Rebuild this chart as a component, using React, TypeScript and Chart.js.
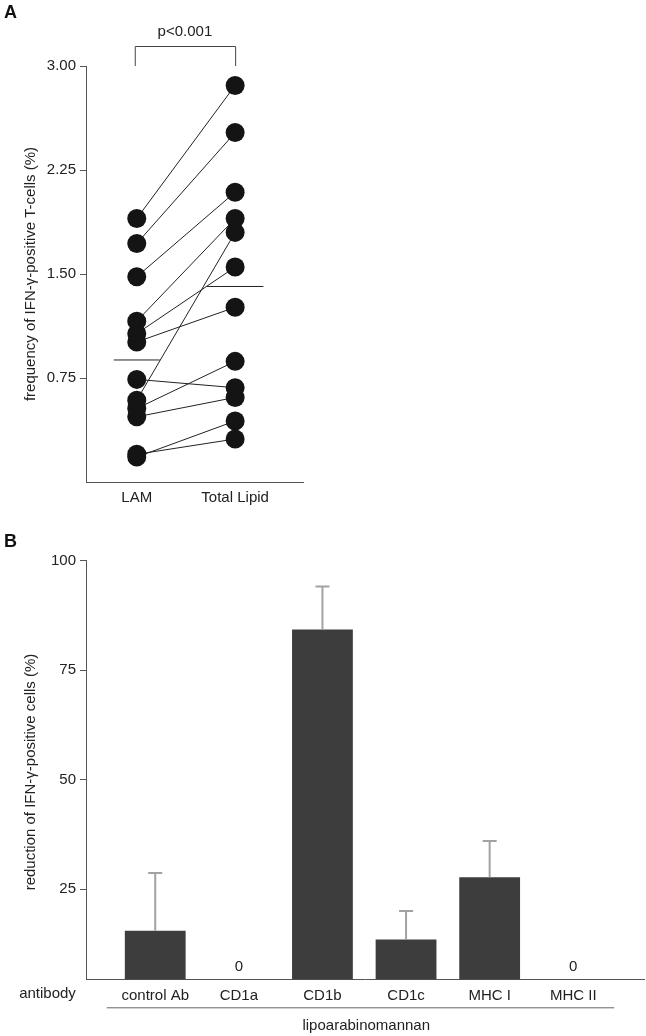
import React, { useEffect, useRef } from "react";
import { Chart, registerables } from "chart.js";

Chart.register(...registerables);

// ---------- Panel A data ----------
const groupLabels = ["LAM", "Total Lipid"];
const lamValues = [1.9, 1.72, 1.48, 1.16, 1.07, 1.01, 0.74, 0.59, 0.53, 0.47, 0.2, 0.18];
const totalLipidValues = [2.86, 2.52, 2.09, 1.9, 1.55, 1.26, 0.68, 1.8, 0.87, 0.61, 0.31, 0.44];
const groupMeans = [0.88, 1.41];
const yTicksA = [0.75, 1.5, 2.25, 3.0];
const pValueText = "p<0.001";
const yTitleA = "frequency of IFN-\u03b3-positive T-cells (%)";

// ---------- Panel B data ----------
const antibodies = ["control Ab", "CD1a", "CD1b", "CD1c", "MHC I", "MHC II"];
const reductionValues = [15.5, 0, 84.3, 13.5, 27.7, 0];
const reductionErrors = [13.2, 0, 9.8, 6.5, 8.3, 0];
const yTicksB = [25, 50, 75, 100];
const yTitleB = "reduction of IFN-\u03b3-positive cells (%)";
const rowLabel = "antibody";
const groupLabelB = "lipoarabinomannan";

const FONT = '"Liberation Sans", Arial, Helvetica, sans-serif';
const TEXT = "#222";
const AXIS = "#555";

function drawRotatedTitle(ctx: CanvasRenderingContext2D, text: string, x: number, y: number) {
  ctx.save();
  ctx.translate(x, y);
  ctx.rotate(-Math.PI / 2);
  ctx.font = `15px ${FONT}`;
  ctx.fillStyle = TEXT;
  ctx.textAlign = "center";
  ctx.textBaseline = "middle";
  ctx.fillText(text, 0, 0);
  ctx.restore();
}

function drawPanelLetter(ctx: CanvasRenderingContext2D, letter: string, x: number, y: number) {
  ctx.save();
  ctx.font = `bold 18px ${FONT}`;
  ctx.fillStyle = "#111";
  ctx.textAlign = "left";
  ctx.textBaseline = "middle";
  ctx.fillText(letter, x, y);
  ctx.restore();
}

export default function App() {
  const refA = useRef<HTMLCanvasElement | null>(null);
  const refB = useRef<HTMLCanvasElement | null>(null);

  useEffect(() => {
    if (!refA.current || !refB.current) return;

    // ---------------- Panel A ----------------
    const pairDatasets: any[] = lamValues.map((v, i) => ({
      data: [
        { x: 1, y: v },
        { x: 2, y: totalLipidValues[i] },
      ],
      showLine: true,
      borderColor: "#222",
      borderWidth: 1,
      pointRadius: 9.5,
      pointHoverRadius: 9.5,
      pointBackgroundColor: "#141414",
      pointBorderWidth: 0,
      clip: false,
    }));
    const meanHalfWidths = [0.234, 0.288];
    const meanDatasets: any[] = groupMeans.map((m, i) => ({
      data: [
        { x: i + 1 - meanHalfWidths[i], y: m },
        { x: i + 1 + meanHalfWidths[i], y: m },
      ],
      showLine: true,
      borderColor: "#222",
      borderWidth: 1,
      pointRadius: 0,
      pointHoverRadius: 0,
    }));

    const annotA = {
      id: "annotA",
      afterDraw(chart: any) {
        const { ctx, chartArea, scales } = chart;
        const x1 = scales.x.getPixelForValue(1) - 2;
        const x2 = scales.x.getPixelForValue(2);
        const yb = scales.y.getPixelForValue(3.0);
        const yt = yb - 20;
        ctx.save();
        ctx.strokeStyle = "#444";
        ctx.lineWidth = 1;
        ctx.beginPath();
        ctx.moveTo(x1 + 0.5, yb);
        ctx.lineTo(x1 + 0.5, yt + 0.5);
        ctx.lineTo(x2 + 0.5, yt + 0.5);
        ctx.lineTo(x2 + 0.5, yb);
        ctx.stroke();
        ctx.font = `15px ${FONT}`;
        ctx.fillStyle = TEXT;
        ctx.textAlign = "center";
        ctx.textBaseline = "middle";
        ctx.fillText(pValueText, (x1 + x2) / 2, yt - 14);
        ctx.restore();
        drawRotatedTitle(ctx, yTitleA, 31, (chartArea.top + chartArea.bottom) / 2);
        drawPanelLetter(ctx, "A", 4, 13);
      },
    };

    const chartA = new Chart(refA.current, {
      type: "scatter",
      data: { datasets: [...pairDatasets, ...meanDatasets] },
      options: {
        animation: false,
        responsive: false,
        events: [],
        layout: { padding: { top: 66, right: 343, bottom: 0, left: 0 } },
        plugins: { legend: { display: false }, tooltip: { enabled: false } },
        scales: {
          x: {
            type: "linear",
            min: 0.484,
            max: 2.69,
            grid: { display: false, drawTicks: false },
            border: { display: true, color: AXIS, width: 1 },
            ticks: {
              padding: 7,
              autoSkip: false,
              maxRotation: 0,
              color: TEXT,
              font: { family: FONT, size: 15 },
              callback: (v: any) => groupLabels[Math.round(Number(v)) - 1] ?? "",
            },
            afterBuildTicks: (s: any) => {
              s.ticks = groupLabels.map((_, i) => ({ value: i + 1 }));
            },
            afterFit: (s: any) => {
              s.height = 28;
            },
          },
          y: {
            type: "linear",
            min: 0,
            max: 3,
            grid: { drawOnChartArea: false, drawTicks: true, tickLength: 6, color: AXIS },
            border: { display: true, color: AXIS, width: 1 },
            ticks: {
              padding: 4,
              color: TEXT,
              font: { family: FONT, size: 15 },
              callback: (v: any) => Number(v).toFixed(2),
            },
            afterBuildTicks: (s: any) => {
              s.ticks = yTicksA.map((v) => ({ value: v }));
            },
            afterFit: (s: any) => {
              s.width = 86;
            },
          },
        },
      } as any,
      plugins: [annotA],
    });

    // ---------------- Panel B ----------------
    const annotB = {
      id: "annotB",
      afterDatasetsDraw(chart: any) {
        const { ctx, scales, chartArea } = chart;
        ctx.save();
        ctx.strokeStyle = "#a2a2a2";
        ctx.lineWidth = 2;
        reductionValues.forEach((v, i) => {
          const e = reductionErrors[i];
          if (!e) return;
          const x = scales.x.getPixelForValue(i);
          const yBar = scales.y.getPixelForValue(v);
          const yTop = scales.y.getPixelForValue(v + e);
          ctx.beginPath();
          ctx.moveTo(x, yBar);
          ctx.lineTo(x, yTop);
          ctx.moveTo(x - 7, yTop);
          ctx.lineTo(x + 7, yTop);
          ctx.stroke();
        });
        ctx.font = `15px ${FONT}`;
        ctx.fillStyle = TEXT;
        ctx.textAlign = "center";
        ctx.textBaseline = "middle";
        reductionValues.forEach((v, i) => {
          if (v === 0) {
            ctx.fillText("0", scales.x.getPixelForValue(i), chartArea.bottom - 12);
          }
        });
        ctx.restore();
      },
      afterDraw(chart: any) {
        const { ctx, scales, chartArea } = chart;
        ctx.save();
        ctx.font = `15px ${FONT}`;
        ctx.fillStyle = TEXT;
        ctx.textAlign = "center";
        ctx.textBaseline = "middle";
        ctx.fillText(rowLabel, 47.5, chartArea.bottom + 15);
        const xl = scales.x.getPixelForValue(-0.58);
        const xr = scales.x.getPixelForValue(5.49);
        const yl = chartArea.bottom + 28;
        ctx.strokeStyle = "#666";
        ctx.lineWidth = 1;
        ctx.beginPath();
        ctx.moveTo(xl, yl + 0.5);
        ctx.lineTo(xr, yl + 0.5);
        ctx.stroke();
        const xc = (scales.x.getPixelForValue(0) + scales.x.getPixelForValue(antibodies.length - 1)) / 2 + 2;
        ctx.fillText(groupLabelB, xc, chartArea.bottom + 47);
        ctx.restore();
        drawRotatedTitle(ctx, yTitleB, 31, (chartArea.top + chartArea.bottom) / 2 + 2);
        drawPanelLetter(ctx, "B", 4, 32);
      },
    };

    const chartB = new Chart(refB.current, {
      type: "bar",
      data: {
        datasets: [
          {
            data: reductionValues.map((v, i) => ({ x: i, y: v })),
            backgroundColor: "#3d3d3d",
            borderWidth: 0,
            barPercentage: 0.909,
            categoryPercentage: 0.8,
          } as any,
        ],
      },
      options: {
        animation: false,
        responsive: false,
        events: [],
        layout: { padding: { top: 50.7, right: 2, bottom: 0, left: 0 } },
        plugins: { legend: { display: false }, tooltip: { enabled: false } },
        scales: {
          x: {
            type: "linear",
            offset: false,
            min: -0.828,
            max: 5.846,
            grid: { display: false, drawTicks: false, offset: false },
            border: { display: true, color: AXIS, width: 1 },
            ticks: {
              padding: 8,
              autoSkip: false,
              maxRotation: 0,
              color: TEXT,
              font: { family: FONT, size: 15 },
              callback: (v: any) => antibodies[Math.round(Number(v))] ?? "",
            },
            afterBuildTicks: (s: any) => {
              s.ticks = antibodies.map((_, i) => ({ value: i }));
            },
            afterFit: (s: any) => {
              s.height = 56.7;
            },
          },
          y: {
            type: "linear",
            min: 4.4,
            max: 100,
            grid: { drawOnChartArea: false, drawTicks: true, tickLength: 6, color: AXIS },
            border: { display: true, color: AXIS, width: 1 },
            ticks: {
              padding: 4,
              color: TEXT,
              font: { family: FONT, size: 15 },
              callback: (v: any) => String(v),
            },
            afterBuildTicks: (s: any) => {
              s.ticks = yTicksB.map((v) => ({ value: v }));
            },
            afterFit: (s: any) => {
              s.width = 86;
            },
          },
        },
      } as any,
      plugins: [annotB],
    });

    return () => {
      chartA.destroy();
      chartB.destroy();
    };
  }, []);

  return (
    <div style={{ position: "absolute", left: 0, top: 0, width: 646, height: 1036, background: "#fff" }}>
      <canvas
        ref={refA}
        width={646}
        height={510}
        style={{ position: "absolute", left: 0, top: 0, width: 646, height: 510 }}
      />
      <canvas
        ref={refB}
        width={646}
        height={526}
        style={{ position: "absolute", left: 0, top: 510, width: 646, height: 526 }}
      />
    </div>
  );
}
